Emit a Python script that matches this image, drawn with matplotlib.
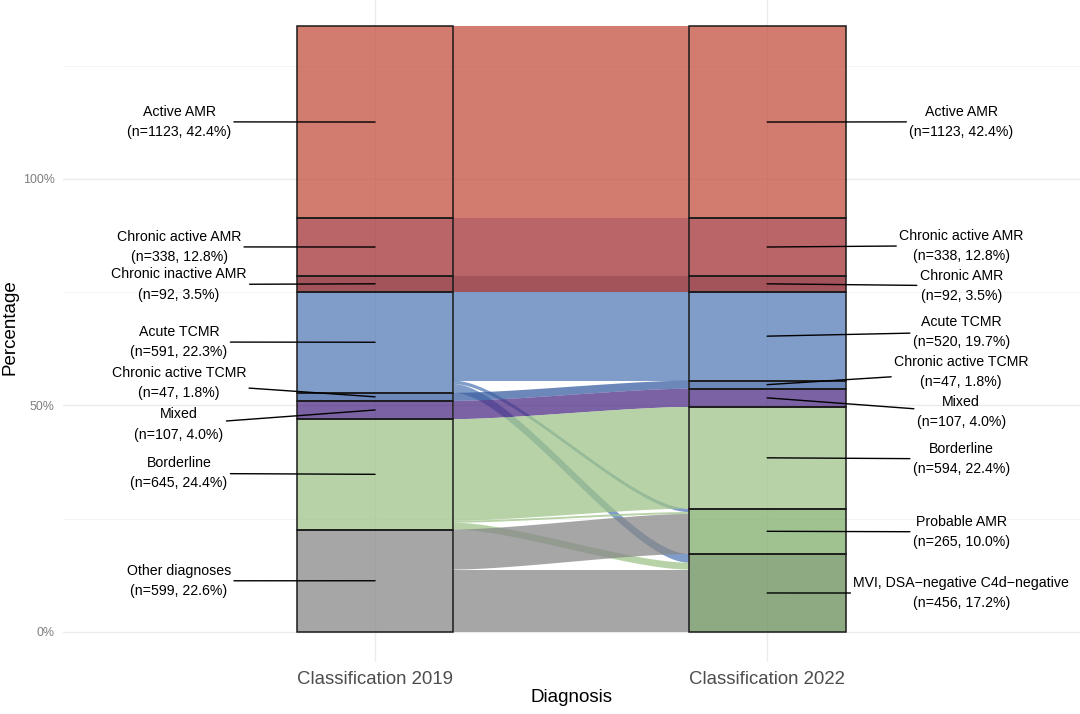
import numpy as np
import matplotlib
matplotlib.use('Agg')
import matplotlib.pyplot as plt
from matplotlib.patches import Rectangle, Polygon

plt.rcParams['font.family'] = ['Liberation Sans', 'DejaVu Sans']

# ── data ──
axis_labels = ['Classification 2019', 'Classification 2022']
n_patients = 2648  # base used for the percentages

left_names = ['Active AMR', 'Chronic active AMR', 'Chronic inactive AMR', 'Acute TCMR',
              'Chronic active TCMR', 'Mixed', 'Borderline', 'Other diagnoses']
left_counts = [1123, 338, 92, 591, 47, 107, 645, 599]
left_pct = [42.4, 12.8, 3.5, 22.3, 1.8, 4.0, 24.4, 22.6]

right_names = ['Active AMR', 'Chronic active AMR', 'Chronic AMR', 'Acute TCMR',
               'Chronic active TCMR', 'Mixed', 'Borderline', 'Probable AMR',
               'MVI, DSA\u2212negative C4d\u2212negative']
right_counts = [1123, 338, 92, 520, 47, 107, 594, 265, 456]
right_pct = [42.4, 12.8, 3.5, 19.7, 1.8, 4.0, 22.4, 10.0, 17.2]

# flows: index into left_names -> index into right_names
flow_src = [0, 1, 2, 3, 3, 3, 4, 5, 6, 6, 6, 7, 7]
flow_dst = [0, 1, 2, 3, 7, 8, 4, 5, 6, 7, 8, 7, 8]
flow_n = [1123, 338, 92, 520, 20, 51, 47, 107, 594, 11, 40, 234, 365]

# repelled label heights (percent)
left_label_y = [112.6, 85.0, 76.7, 64.0, 54.9, 45.8, 35.0, 11.3]
right_label_y = [112.6, 85.3, 76.4, 66.2, 57.3, 48.5, 38.2, 22.1, 8.6]

COLORS = {
    'Active AMR': '#C34F3F',
    'Chronic active AMR': '#A33337',
    'Chronic inactive AMR': '#831B23',
    'Chronic AMR': '#831B23',
    'Acute TCMR': '#567CB8',
    'Chronic active TCMR': '#3B5FA2',
    'Mixed': '#4E2E87',
    'Borderline': '#9FC48A',
    'Probable AMR': '#80AE6C',
    'MVI, DSA\u2212negative C4d\u2212negative': '#688E58',
    'Other diagnoses': '#888888',
}
ALPHA = 0.75
HALF_W = 0.2


def stack(counts):
    """Return (bottom, top) in percent for strata stacked top-first."""
    vals = np.array(counts) / n_patients * 100
    tops = vals.sum() - np.concatenate([[0], np.cumsum(vals)[:-1]])
    return tops - vals, tops


def bez(a, b, t):
    return a + (b - a) * (3 * t ** 2 - 2 * t ** 3)


fig = plt.figure(figsize=(10.8, 7.14), dpi=100)
ax = fig.add_axes([63 / 1080, 0.0724, 1 - 63 / 1080, 0.934])
ax.set_xlim(0.204, 2.798)
ax.set_ylim(-6.69, 140.5)

lb, lt = stack(left_counts)
rb, rt = stack(right_counts)

# ── flows ──
lcur = lt.copy()
rcur = rt.copy()
order_left = sorted(range(len(flow_n)), key=lambda k: (flow_src[k], flow_dst[k]))
pos_left = {}
for k in order_left:
    s = flow_src[k]
    h = flow_n[k] / n_patients * 100
    pos_left[k] = (lcur[s] - h, lcur[s])
    lcur[s] -= h
order_right = sorted(range(len(flow_n)), key=lambda k: (flow_dst[k], flow_src[k]))
pos_right = {}
for k in order_right:
    d = flow_dst[k]
    h = flow_n[k] / n_patients * 100
    pos_right[k] = (rcur[d] - h, rcur[d])
    rcur[d] -= h

t = np.linspace(0, 1, 100)
x0, x1 = 1 + HALF_W, 2 - HALF_W
xs = x0 + (x1 - x0) * (3 * t * (1 - t) ** 2 * 0.25 + 3 * t ** 2 * (1 - t) * 0.75 + t ** 3)
for k in range(len(flow_n)):
    (l0, l1), (r0, r1) = pos_left[k], pos_right[k]
    top = bez(l1, r1, t)
    bot = bez(l0, r0, t)
    poly = np.column_stack([np.concatenate([xs, xs[::-1]]), np.concatenate([top, bot[::-1]])])
    ax.add_patch(Polygon(poly, closed=True, facecolor=COLORS[left_names[flow_src[k]]],
                         alpha=ALPHA, edgecolor='none', zorder=2))

# ── strata ──
for xc, names, bots, tops in [(1, left_names, lb, lt), (2, right_names, rb, rt)]:
    for nm, b, tp in zip(names, bots, tops):
        ax.add_patch(Rectangle((xc - HALF_W, b), 2 * HALF_W, tp - b,
                               facecolor=COLORS[nm], alpha=ALPHA, edgecolor='none', zorder=3))
        ax.add_patch(Rectangle((xc - HALF_W, b), 2 * HALF_W, tp - b,
                               facecolor='none', edgecolor='#1a1a1a', linewidth=1.1, zorder=4))

# ── labels ──
for xc, xt, names, counts, pct, ly, bots, tops in [
        (1, 0.5, left_names, left_counts, left_pct, left_label_y, lb, lt),
        (2, 2.495, right_names, right_counts, right_pct, right_label_y, rb, rt)]:
    for nm, c, p, y, b, tp in zip(names, counts, pct, ly, bots, tops):
        ax.annotate(f'{nm}\n(n={c}, {p:.1f}%)', xy=(xc, (b + tp) / 2), xytext=(xt, y),
                    ha='center', va='center', fontsize=10.2, linespacing=1.55, color='black',
                    arrowprops=dict(arrowstyle='-', color='black', lw=1.0,
                                    shrinkA=0, shrinkB=0), zorder=5)

# ── axes styling ──
ax.set_xticks([1, 2])
ax.set_xticklabels(axis_labels, fontsize=13.4, color='#4d4d4d')
ax.set_yticks([0, 50, 100])
ax.set_yticklabels(['0%', '50%', '100%'], fontsize=8.9, color='#7f7f7f')
ax.set_yticks([25, 75, 125], minor=True)
ax.tick_params(axis='both', which='both', length=0)
ax.tick_params(axis='x', pad=6)
ax.tick_params(axis='y', pad=6)
ax.grid(True, which='major', color='#EBEBEB', linewidth=1.0, zorder=0)
ax.grid(True, which='minor', axis='y', color='#F3F3F3', linewidth=0.7, zorder=0)
ax.set_axisbelow(True)
for sp in ax.spines.values():
    sp.set_visible(False)

fig.text(571 / 1080, 1 - 698 / 714, 'Diagnosis', ha='center', va='center', fontsize=13.5)
fig.text(10 / 1080, 1 - 327 / 714, 'Percentage', ha='center', va='center', rotation=90,
         fontsize=13.5)

fig.savefig('out.png', dpi=100)
